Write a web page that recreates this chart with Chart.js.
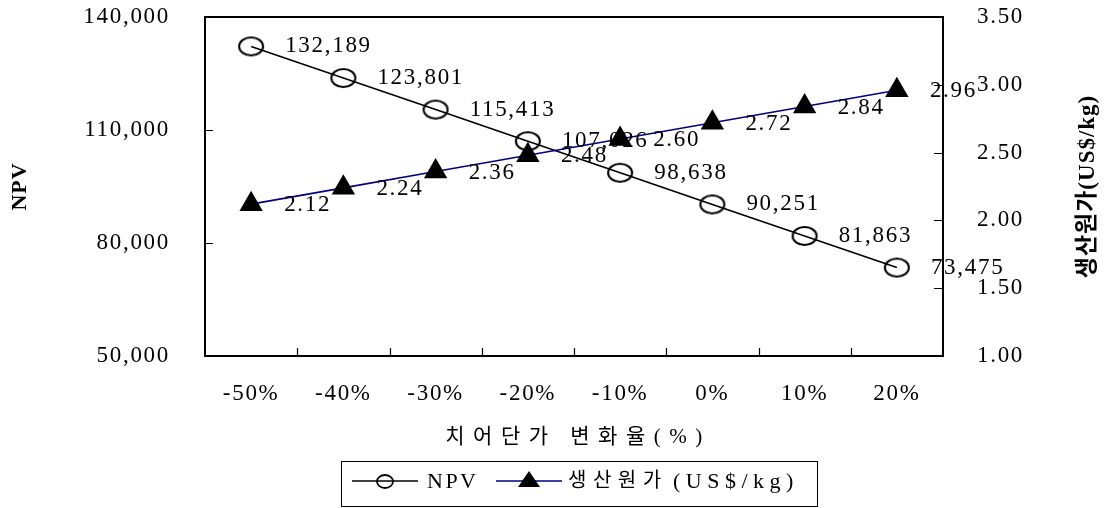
<!DOCTYPE html>
<html>
<head>
<meta charset="utf-8">
<script src="https://cdn.jsdelivr.net/npm/chart.js@4.4.1/dist/chart.umd.min.js"></script>
<style>
  html, body { margin: 0; padding: 0; background: #fff; }
  canvas { display: block; }
</style>
</head>
<body>
<canvas id="npvChart" width="1105" height="508"></canvas>
<script>
const categories = ['-50%', '-40%', '-30%', '-20%', '-10%', '0%', '10%', '20%'];
const npvValues = [132189, 123801, 115413, 107026, 98638, 90251, 81863, 73475];
const costValues = [2.12, 2.24, 2.36, 2.48, 2.60, 2.72, 2.84, 2.96];
const npvTicks = [50000, 80000, 110000, 140000];
const costTicks = [1.00, 1.50, 2.00, 2.50, 3.00, 3.50];

const serif = "'Liberation Serif', 'Noto Sans CJK KR', serif";
Chart.defaults.font.family = serif;
Chart.defaults.color = '#000';

// hollow ellipse marker like the original
function ellipseMarker(rx, ry, lw) {
    const c = document.createElement('canvas');
    c.width = Math.ceil(rx * 2 + lw * 2);
    c.height = Math.ceil(ry * 2 + lw * 2);
    const g = c.getContext('2d');
    g.lineWidth = lw;
    g.strokeStyle = '#000';
    g.beginPath();
    g.ellipse(c.width / 2, c.height / 2, rx, ry, 0, 0, Math.PI * 2);
    g.stroke();
    return c;
}

function spacedText(ctx, text, x, y, font, spacing, align) {
    ctx.save();
    ctx.font = font;
    ctx.letterSpacing = spacing + 'px';
    ctx.fillStyle = '#000';
    ctx.textBaseline = 'middle';
    ctx.textAlign = align || 'left';
    ctx.fillText(text, x, y);
    ctx.restore();
}

function noPadding(scale) {
    scale.paddingTop = 0;
    scale.paddingBottom = 0;
    scale.paddingLeft = 0;
    scale.paddingRight = 0;
}

const framePlugin = {
    id: 'framePlugin',
    beforeDraw(chart) {
        chart.ctx.letterSpacing = '1.7px';
    },
    afterDatasetsDraw(chart) {
        const {ctx, chartArea: a, scales: {x, y, y1}} = chart;
        ctx.save();
        ctx.strokeStyle = '#000';
        ctx.lineWidth = 2;
        ctx.strokeRect(a.left, a.top, a.right - a.left, a.bottom - a.top);
        ctx.lineWidth = 1.2;
        ctx.beginPath();
        for (let i = 1; i < categories.length; i++) {
            const px = Math.round((x.getPixelForValue(i - 1) + x.getPixelForValue(i)) / 2) + 0.5;
            ctx.moveTo(px, a.bottom);
            ctx.lineTo(px, a.bottom - 8);
        }
        y.ticks.forEach(t => {
            const py = Math.round(y.getPixelForValue(t.value)) + 0.5;
            ctx.moveTo(a.left, py);
            ctx.lineTo(a.left + 8, py);
        });
        y1.ticks.forEach(t => {
            const py = Math.round(y1.getPixelForValue(t.value)) + 0.5;
            ctx.moveTo(a.right, py);
            ctx.lineTo(a.right - 9, py);
        });
        ctx.stroke();
        ctx.restore();

        // value labels next to each point
        const labelFont = '23px ' + serif;
        const npvMeta = chart.getDatasetMeta(1);
        npvMeta.data.forEach((pt, i) => {
            spacedText(ctx, npvValues[i].toLocaleString('en-US'), pt.x + 34, pt.y, labelFont, 1.7);
        });
        const costMeta = chart.getDatasetMeta(0);
        costMeta.data.forEach((pt, i) => {
            spacedText(ctx, costValues[i].toFixed(2), pt.x + 33, pt.y + 1, labelFont, 1.7);
        });
    },
    afterDraw(chart) {
        const {ctx, chartArea: a} = chart;
        const midY = (a.top + a.bottom) / 2;

        // axis titles
        ctx.save();
        ctx.translate(20, midY);
        ctx.rotate(-Math.PI / 2);
        spacedText(ctx, 'NPV', 0, 0, 'bold 22px ' + serif, 1, 'center');
        ctx.restore();

        ctx.save();
        ctx.translate(1088, midY);
        ctx.rotate(-Math.PI / 2);
        spacedText(ctx, '생산원가(US$/kg)', 0, 0, 'bold 23px ' + serif, 1, 'center');
        ctx.restore();

        spacedText(ctx, '치어단가 변화율(%)', (a.left + a.right) / 2 + 4, 437, '21px ' + serif, 8.5, 'center');

        // legend box
        ctx.save();
        ctx.strokeStyle = '#000';
        ctx.lineWidth = 1;
        ctx.strokeRect(341.5, 461.5, 476, 45);
        const ly = 481;
        ctx.lineWidth = 1.5;
        ctx.beginPath();
        ctx.moveTo(352, ly);
        ctx.lineTo(418, ly);
        ctx.stroke();
        ctx.drawImage(ellipseMarker(8, 6.5, 1.8), 385 - 10, ly - 8);
        ctx.strokeStyle = '#000080';
        ctx.beginPath();
        ctx.moveTo(496, ly);
        ctx.lineTo(562, ly);
        ctx.stroke();
        ctx.fillStyle = '#000';
        ctx.beginPath();
        ctx.moveTo(529, ly - 10);
        ctx.lineTo(540, ly + 6);
        ctx.lineTo(518, ly + 6);
        ctx.closePath();
        ctx.fill();
        ctx.restore();
        spacedText(ctx, 'NPV', 427, ly + 1, '22px ' + serif, 2.5);
        spacedText(ctx, '생산원가', 568, ly + 1, '20px ' + serif, 6.5);
        spacedText(ctx, '(US$/kg)', 673, ly + 1, '22px ' + serif, 5.5);
    }
};

const ctx = document.getElementById('npvChart').getContext('2d');
const npvChart = new Chart(ctx, {
    type: 'line',
    data: {
        labels: categories,
        datasets: [
            {
                label: '생산원가(US$/kg)',
                data: costValues,
                yAxisID: 'y1',
                borderColor: '#000080',
                borderWidth: 1.6,
                pointStyle: 'triangle',
                pointRadius: 13.5,
                pointBackgroundColor: '#000',
                pointBorderColor: '#000',
                pointBorderWidth: 0,
                order: 0
            },
            {
                label: 'NPV',
                data: npvValues,
                yAxisID: 'y',
                borderColor: '#000',
                borderWidth: 1.6,
                pointStyle: ellipseMarker(12, 9, 2),
                pointRadius: 12,
                order: 1
            }
        ]
    },
    options: {
        responsive: false,
        animation: false,
        layout: { padding: { top: 17, left: 0, right: 0, bottom: 0 } },
        plugins: {
            legend: { display: false },
            tooltip: { enabled: false }
        },
        scales: {
            x: {
                offset: true,
                grid: { display: false, drawTicks: false },
                border: { display: false },
                ticks: {
                    font: { size: 23 },
                    padding: 24,
                    maxRotation: 0,
                    autoSkip: false
                },
                afterFit(scale) { noPadding(scale); scale.height = 152; }
            },
            y: {
                position: 'left',
                min: 50000,
                max: 140000,
                grid: { display: false, drawTicks: false },
                border: { display: false },
                ticks: {
                    font: { size: 23 },
                    padding: 35,
                    callback: v => v.toLocaleString('en-US')
                },
                afterBuildTicks(scale) { scale.ticks = npvTicks.map(v => ({ value: v })); },
                afterFit(scale) { noPadding(scale); scale.width = 205; }
            },
            y1: {
                position: 'right',
                min: 1,
                max: 3.5,
                grid: { display: false, drawTicks: false },
                border: { display: false },
                ticks: {
                    font: { size: 23 },
                    padding: 34,
                    callback: v => Number(v).toFixed(2)
                },
                afterBuildTicks(scale) { scale.ticks = costTicks.map(v => ({ value: v })); },
                afterFit(scale) { noPadding(scale); scale.width = 162; }
            }
        }
    },
    plugins: [framePlugin]
});
</script>
</body>
</html>
